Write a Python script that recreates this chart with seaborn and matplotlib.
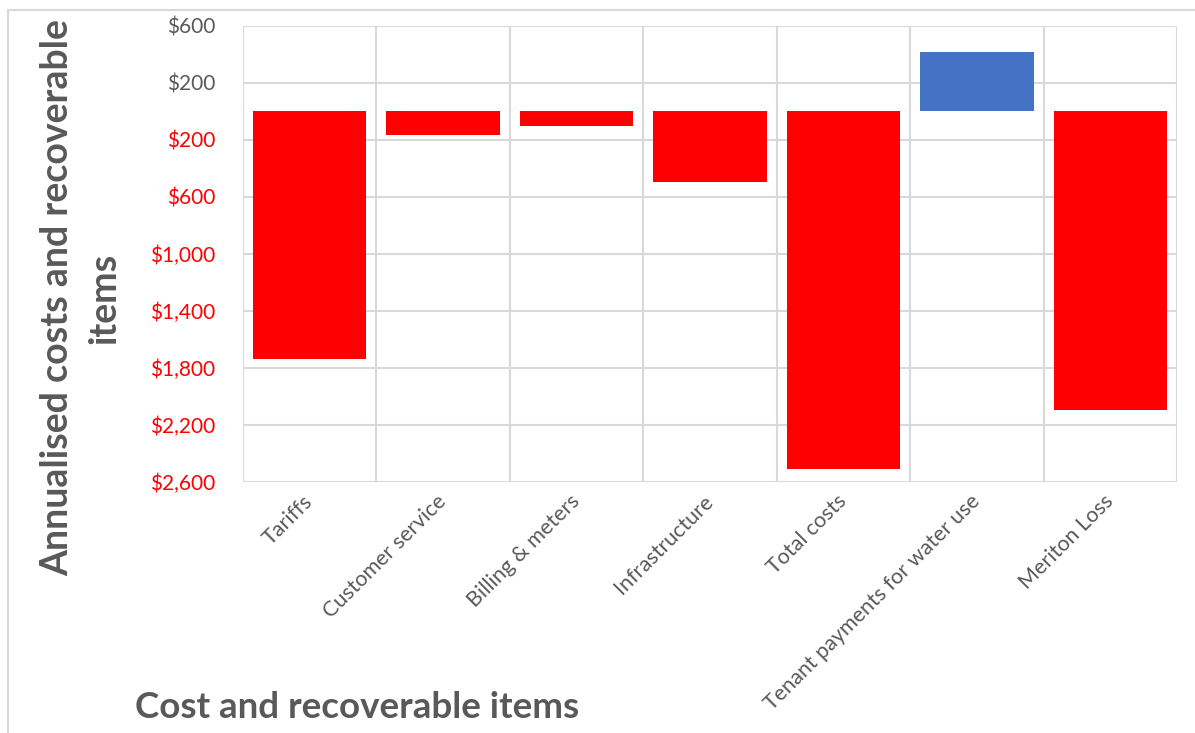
import matplotlib
matplotlib.use("Agg")
import matplotlib.pyplot as plt
from matplotlib.lines import Line2D
import seaborn as sns
import pandas as pd

categories = ["Tariffs", "Customer service", "Billing & meters", "Infrastructure",
              "Total costs", "Tenant payments for water use", "Meriton Loss"]
values = [-1737, -166, -105, -496, -2514, 419, -2095]
y_ticks = [-2600, -2200, -1800, -1400, -1000, -600, -200, 200, 600]

sns.set_theme(style="white")
plt.rcParams['font.family'] = ['Lato', 'DejaVu Sans']

df = pd.DataFrame({"item": categories, "value": values})
df["sign"] = ["pos" if v >= 0 else "neg" for v in values]

W, H = 1195, 733
fig = plt.figure(figsize=(W / 100, H / 100), dpi=100)
ax = fig.add_axes([243 / W, 1 - 481.7 / H, (1177.3 - 243) / W, (481.7 - 26) / H])

sns.barplot(data=df, x="item", y="value", hue="sign",
            palette={"neg": "#FF0000", "pos": "#4472C4"},
            dodge=False, width=0.85, legend=False, ax=ax, saturation=1)

ax.set_xlim(-0.5, len(categories) - 0.5)
ax.set_ylim(-2600, 600)
ax.set_yticks(y_ticks)
ax.set_yticklabels([f"${abs(v):,.0f}" for v in y_ticks])
for lbl, v in zip(ax.get_yticklabels(), y_ticks):
    lbl.set_color("#FF0000" if v < 0 else "#595959")

ax.set_xticks(range(len(categories)))
ax.set_xticklabels(categories, rotation=45, ha="right", va="center",
                   rotation_mode="anchor", color="#595959", fontsize=15.5)
ax.set_xticks([i - 0.5 for i in range(len(categories) + 1)], minor=True)

ax.tick_params(axis="y", length=0, pad=20, labelsize=15)
ax.tick_params(axis="x", which="both", length=0, pad=12)

ax.grid(False)
ax.yaxis.grid(True, color="#D9D9D9", linewidth=1.5)
ax.xaxis.grid(True, which="minor", color="#D9D9D9", linewidth=1.5)
ax.set_axisbelow(True)
for s in ax.spines.values():
    s.set_visible(False)
for p in ax.patches:
    p.set_edgecolor("none")

ax.set_xlabel("")
ax.set_ylabel("")

fig.text(81 / W, 1 - 298 / H, "Annualised costs and recoverable\nitems",
         rotation=90, ha="center", va="center", multialignment="center",
         fontsize=27, fontweight="bold", color="#595959", linespacing=1.45)
fig.text(135 / W, 1 - 708 / H, "Cost and recoverable items",
         ha="left", va="center", fontsize=26.5, fontweight="bold", color="#595959")

# outer chart frame (top and left edges visible)
fig.add_artist(Line2D([8 / W, 1], [1 - 10 / H, 1 - 10 / H], transform=fig.transFigure,
                      color="#D9D9D9", linewidth=1.5))
fig.add_artist(Line2D([8 / W, 8 / W], [0, 1 - 10 / H], transform=fig.transFigure,
                      color="#D9D9D9", linewidth=1.5))

fig.savefig("out.png", dpi=100)
